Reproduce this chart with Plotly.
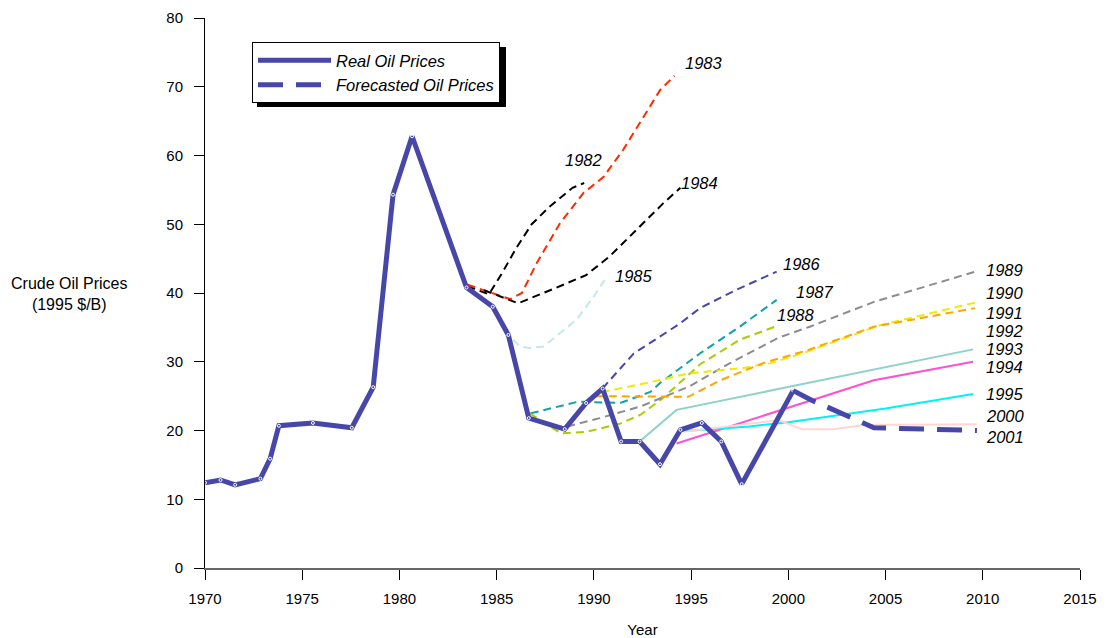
import plotly.graph_objects as go

# Real oil prices (1995 $/B)
real_years = [1970.0, 1970.8, 1971.55, 1972.85, 1973.35, 1973.8, 1975.55, 1977.55, 1978.65, 1979.67,
              1980.65, 1983.45, 1984.8, 1985.6, 1986.65, 1988.5, 1989.6, 1990.45, 1991.4, 1992.35,
              1993.4, 1994.45, 1995.55, 1996.55, 1997.6, 2000.25]
real_prices = [12.4, 12.8, 12.1, 13.0, 15.9, 20.7, 21.1, 20.4, 26.3, 54.3,
               62.8, 40.8, 38.0, 33.9, 21.8, 20.2, 24.0, 26.1, 18.4, 18.4,
               15.1, 20.1, 21.1, 18.4, 12.2, 25.8]

# Forecasts by vintage
f1982_x = [1983.5, 1984.6, 1985.3, 1986.0, 1986.8, 1987.7, 1988.9, 1989.5]
f1982_y = [41.0, 39.8, 43.0, 46.5, 50.0, 52.5, 55.3, 56.0]

f1983_x = [1983.5, 1985.7, 1986.3, 1987.05, 1988.25, 1989.45, 1990.5, 1991.5, 1992.55, 1993.4, 1994.15]
f1983_y = [41.2, 39.1, 40.0, 44.3, 50.1, 54.5, 56.9, 60.8, 65.6, 69.5, 71.6]

f1984_x = [1984.35, 1986.1, 1987.75, 1989.6, 1990.8, 1992.2, 1993.55, 1994.45]
f1984_y = [40.4, 38.5, 40.4, 42.6, 45.3, 49.2, 53.0, 55.3]

f1985_x = [1984.8, 1985.6, 1986.2, 1986.7, 1987.4, 1989.1, 1990.0, 1990.55]
f1985_y = [38.0, 33.9, 32.2, 32.0, 32.2, 36.1, 39.5, 41.9]

f1986_x = [1990.45, 1990.75, 1992.05, 1994.45, 1995.45, 1997.35, 1999.4]
f1986_y = [26.1, 27.1, 31.2, 35.6, 37.8, 40.5, 43.1]

f1987_x = [1986.75, 1989.2, 1991.35, 1992.9, 1993.4, 1995.45, 1997.5, 1999.4]
f1987_y = [22.5, 24.2, 24.0, 25.6, 26.9, 31.2, 35.1, 39.0]

f1988_x = [1986.7, 1988.3, 1989.6, 1991.35, 1992.4, 1993.5, 1995.45, 1997.5, 1999.4]
f1988_y = [22.5, 19.6, 19.8, 21.0, 22.3, 24.6, 29.6, 33.2, 35.2]

f1989_x = [1986.7, 1988.4, 1990.3, 1992.4, 1994.9, 1997.0, 1999.5, 2001.1, 2004.4, 2009.6]
f1989_y = [21.8, 20.4, 21.8, 23.5, 26.4, 29.8, 33.5, 35.1, 38.7, 43.1]

f1990_x = [1990.4, 1992.7, 1994.85, 1996.6, 1997.7, 1999.1, 2000.8, 2004.7, 2009.6]
f1990_y = [25.6, 26.9, 28.3, 28.8, 29.1, 29.8, 31.3, 35.3, 38.6]

f1991_x = [1990.1, 1992.7, 1994.85, 1996.5, 1998.7, 2000.9, 2004.4, 2009.6]
f1991_y = [25.0, 24.9, 24.9, 27.3, 29.8, 31.6, 35.1, 37.8]

f1993_x = [1992.35, 1993.4, 1994.25, 1999.6, 2009.5]
f1993_y = [18.4, 21.0, 23.0, 26.1, 31.8]

f1994_x = [1994.25, 1999.6, 2004.4, 2009.5]
f1994_y = [18.1, 23.0, 27.3, 30.0]

f1995_x = [1994.5, 1998.0, 2000.0, 2005.0, 2009.5]
f1995_y = [19.9, 20.6, 21.2, 23.2, 25.3]

f2000_x = [1994.6, 1999.5, 2000.7, 2002.3, 2003.9, 2009.7]
f2000_y = [19.8, 21.5, 20.2, 20.2, 20.8, 20.9]

f2001_x = [2000.25, 2001.2, 2002.9, 2004.4, 2009.7]
f2001_y = [25.8, 24.4, 22.3, 20.4, 20.0]

# Vintage labels: (text, x, y)
label_text = ["1982", "1983", "1984", "1985", "1986", "1987", "1988", "1989", "1990",
              "1991", "1992", "1993", "1994", "1995", "2000", "2001"]
label_x = [1988.4, 1994.6, 1994.4, 1991.0, 1999.6, 2000.3, 1999.3, 2010.05, 2010.05,
           2010.05, 2010.05, 2010.05, 2010.05, 2010.05, 2010.05, 2010.05]
label_y = [59.3, 73.5, 56.0, 42.5, 44.2, 40.1, 36.8, 43.3, 40.0,
           37.1, 34.5, 31.9, 29.2, 25.3, 22.1, 19.05]

x_ticks = [1970, 1975, 1980, 1985, 1990, 1995, 2000, 2005, 2010, 2015]
y_ticks = [0, 10, 20, 30, 40, 50, 60, 70, 80]

NAVY = "#4747A9"
FONT = "Liberation Sans, Arial, sans-serif"

fig = go.Figure()

forecasts = [
    (f1982_x, f1982_y, "#000000", "dash"),
    (f1983_x, f1983_y, "#FF2A00", "dash"),
    (f1984_x, f1984_y, "#000000", "dash"),
    (f1985_x, f1985_y, "#C4E6EC", "dash"),
    (f1986_x, f1986_y, "#4747A9", "dash"),
    (f1987_x, f1987_y, "#11A3A3", "dash"),
    (f1988_x, f1988_y, "#AACC00", "dash"),
    (f1989_x, f1989_y, "#8C8C8C", "dash"),
    (f1990_x, f1990_y, "#F0EC00", "dash"),
    (f1991_x, f1991_y, "#FFA500", "dash"),
    (f1993_x, f1993_y, "#8ED2C8", "solid"),
    (f1994_x, f1994_y, "#FF4FD2", "solid"),
    (f1995_x, f1995_y, "#00F2F2", "solid"),
    (f2000_x, f2000_y, "#FFD6D2", "solid"),
]
for xs, ys, col, dash in forecasts:
    fig.add_trace(go.Scatter(
        x=xs, y=ys, mode="lines", showlegend=False, hoverinfo="skip",
        line=dict(color=col, width=2, dash="8px,5px" if dash == "dash" else "solid"),
    ))

fig.add_trace(go.Scatter(
    x=real_years, y=real_prices, mode="lines", name="<i>Real Oil Prices</i>",
    line=dict(color=NAVY, width=5),
))
fig.add_trace(go.Scatter(
    x=real_years, y=real_prices, mode="markers", showlegend=False, hoverinfo="skip",
    marker=dict(symbol="circle-open", size=3, color="white", line=dict(width=1, color="white")),
))
fig.add_trace(go.Scatter(
    x=f2001_x, y=f2001_y, mode="lines", name="<i>Forecasted Oil Prices</i>",
    line=dict(color=NAVY, width=5, dash="25px,13px"),
))

for t, lx, ly in zip(label_text, label_x, label_y):
    fig.add_annotation(x=lx, y=ly, text="<i>" + t + "</i>", showarrow=False,
                       xanchor="left", yanchor="middle",
                       font=dict(family=FONT, size=16.5, color="black"))

fig.add_annotation(xref="paper", yref="y", x=-0.155, y=39.8, text="Crude Oil Prices<br>(1995 $/B)",
                   showarrow=False, xanchor="center", yanchor="middle",
                   font=dict(family=FONT, size=16, color="black"))

# legend shadow
fig.add_shape(type="rect", xref="paper", yref="paper",
              x0=(257 - 205) / 875, x1=(506 - 205) / 875,
              y0=(568 - 107) / 550, y1=(568 - 47) / 550,
              fillcolor="black", line=dict(width=0), layer="above")

fig.update_layout(
    width=1109, height=638,
    margin=dict(l=205, r=29, t=18, b=70, autoexpand=False),
    paper_bgcolor="white", plot_bgcolor="white",
    font=dict(family=FONT, size=14, color="black"),
    legend=dict(x=(252 - 205) / 875, y=(568 - 42) / 550, xanchor="left", yanchor="top",
                bgcolor="white", bordercolor="black", borderwidth=1,
                font=dict(family=FONT, size=16.5, color="black"),
                itemwidth=73, tracegroupgap=2),
    xaxis=dict(range=[1970, 2015], tickvals=x_ticks, ticks="outside", ticklen=10,
               tickcolor="black", showline=True, linecolor="#666666", linewidth=2,
               showgrid=False, zeroline=False, automargin=False,
               title=dict(text="Year", standoff=18, font=dict(size=15)),
               tickfont=dict(size=15), ticklabelstandoff=6),
    yaxis=dict(range=[0, 80], tickvals=y_ticks, ticks="outside", ticklen=10,
               tickcolor="black", showline=True, linecolor="black", linewidth=1,
               showgrid=False, zeroline=False, automargin=False,
               tickfont=dict(size=15), ticklabelstandoff=8),
)

fig.write_html("out.html", config={"displayModeBar": False},
               post_script="document.body.style.margin='0px';document.body.style.padding='0px';")
